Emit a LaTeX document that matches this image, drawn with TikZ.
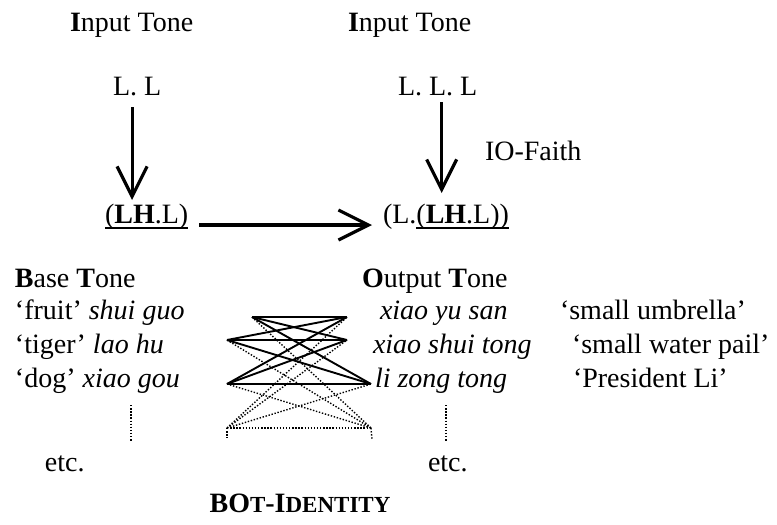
\documentclass[tikz,border=0pt]{standalone}
\usepackage{fontspec}
\setmainfont{Liberation Serif}
\usetikzlibrary{arrows.meta}
\begin{document}
\begin{tikzpicture}[x=1pt,y=-1pt,
  every node/.style={inner sep=0pt,outer sep=0pt,anchor=base west,font=\fontsize{28}{33}\selectfont},
  bigarrow/.style={line width=3.2pt,-{Straight Barb[length=30pt,width=30pt,line width=3.2pt]}},
  solidl/.style={line width=1.9pt},
  dotl/.style={line width=1.4pt,dash pattern=on 1.4pt off 1.7pt},
  uline/.style={line width=1.4pt}]
\useasboundingbox (0,0) rectangle (777,525);
% headings
\node (in1) at (70,31) {\textbf{I}nput Tone};
\node (in2) at (348,31) {\textbf{I}nput Tone};
\node (ll) at (113,95) {L. L};
\node (lll) at (398,95) {L. L. L};
\node (io) at (485,160) {IO-Faith};
\node (lhl) at (105,223) {(\textbf{LH}.L)};
\node (o1) at (383,223) {(L.};
\node (o2) at (o1.base east) {(\textbf{LH}.L))};
\draw[uline] ([yshift=-5pt]lhl.base west) -- ([yshift=-5pt]lhl.base east);
\draw[uline] ([yshift=-5pt]o2.base west) -- ([yshift=-5pt]o2.base east);
% arrows
\draw[bigarrow] ([xshift=-5pt,yshift=-12pt]ll.base) -- ([xshift=-5pt,yshift=23pt]ll.base |- lhl.base);
\draw[bigarrow] ([xshift=4pt,yshift=-7pt]lll.base) -- ([xshift=4pt,yshift=30pt]lll.base |- o1.base);
\draw[bigarrow,line width=3.6pt] ([xshift=11pt,yshift=-2pt]lhl.base east) -- ([xshift=-11pt,yshift=-2pt]o1.base west);
% base column
\node (bt) at (15,287) {\textbf{B}ase \textbf{T}one};
\node (b1) at (15,319) {‘fruit’ \textit{shui guo}};
\node (b2) at (15,353) {‘tiger’ \textit{lao hu}};
\node (b3) at (15,387) {‘dog’ \textit{xiao gou}};
% output column
\node (ot) at (362,287) {\textbf{O}utput \textbf{T}one};
\node (o3) at (380,319) {\textit{xiao yu san}};
\node (o4) at (373,353) {\textit{xiao shui tong}};
\node (o5) at (375,387) {\textit{li zong tong}};
\node (g1) at (560,319) {‘small umbrella’};
\node (g2) at (572,353) {‘small water pail’};
\node (g3) at (573,387) {‘President Li’};
% vertical dotted continuation
\coordinate (va1) at (131,405); \coordinate (vb1) at (131,441);
\coordinate (va2) at (446,405); \coordinate (vb2) at (446,441);
\draw[dotl] (va1) -- (vb1);
\draw[dotl] (va2) -- (vb2);
\node (etc1) at (45,471) {etc.};
\node (etc2) at (428,471) {etc.};
\node[anchor=base] (bot) at (300,512) {\textbf{BO{\fontsize{23}{23}\selectfont T}-I{\fontsize{23}{23}\selectfont DENTITY}}};
% crossing diagram
\coordinate (L1) at (252,317); \coordinate (R1) at (347,317);
\coordinate (L2) at (227,340); \coordinate (R2) at (347,340);
\coordinate (L3) at (227,384); \coordinate (R3) at (371,384);
\coordinate (L4) at (227,428); \coordinate (R4) at (371,428);
\coordinate (L4t) at (227,438); \coordinate (R4t) at (372,440);
\foreach \i in {1,2,3}{
  \foreach \j in {1,2,3}{
    \draw[solidl] (L\i) -- (R\j);
  }
  \draw[dotl] (L\i) -- (R4);
  \draw[dotl] (L4) -- (R\i);
}
\draw[dotl] (L4) -- (R4);
\draw[dotl] (L4) -- (L4t);
\draw[dotl] (R4) -- (R4t);
\end{tikzpicture}
\end{document}
